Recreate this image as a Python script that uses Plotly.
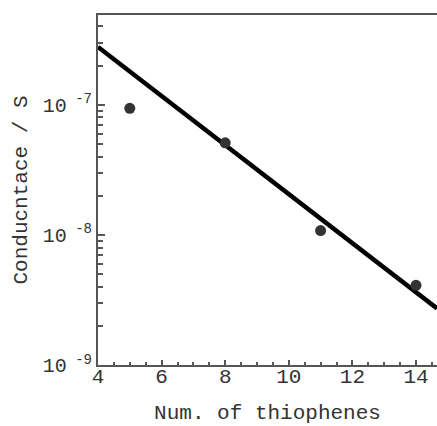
import plotly.graph_objects as go

# measured data
n_thiophenes = [5, 8, 11, 14]
conductance = [9.4e-8, 5.1e-8, 1.08e-8, 4.1e-9]

# fitted line (endpoints)
fit_x = [4, 14.66]
fit_y = [2.78e-7, 2.72e-9]

x_tickvals = [4, 6, 8, 10, 12, 14]
y_tickvals = [1e-9, 1e-8, 1e-7]
y_ticktext = ["10<sup> -9</sup>", "10<sup> -8</sup>", "10<sup> -7</sup>"]
y_minor = [m * 10.0 ** e for e in (-9, -8, -7) for m in range(2, 10)]

FONT = "Liberation Mono, Courier New, monospace"

fig = go.Figure()
fig.add_trace(go.Scatter(x=fit_x, y=fit_y, mode="lines",
                         line=dict(color="black", width=4.5), showlegend=False))
fig.add_trace(go.Scatter(x=n_thiophenes, y=conductance, mode="markers",
                         marker=dict(color="#333333", size=11), showlegend=False))

fig.update_layout(
    width=437, height=426,
    margin=dict(l=98, r=0, t=15, b=61),
    paper_bgcolor="white", plot_bgcolor="white",
    font=dict(family=FONT, size=17, color="#333333"),
    xaxis=dict(
        range=[4, 14.66], tickvals=x_tickvals,
        showline=True, linecolor="#555555", linewidth=2, mirror=True,
        ticks="inside", ticklen=5, tickcolor="#555555", tickwidth=1.5,
        minor=dict(dtick=0.5, ticks="inside", ticklen=3, tickcolor="#555555", tickwidth=1.5),
        showgrid=False, zeroline=False,
        ticklabelstandoff=-9,
        title=dict(text="Num. of thiophenes", font=dict(size=21), standoff=16),
        tickfont=dict(size=21),
    ),
    yaxis=dict(
        type="log", range=[-9, -6.31],
        tickvals=y_tickvals, ticktext=y_ticktext,
        showline=True, linecolor="#555555", linewidth=2,
        ticks="inside", ticklen=7, tickcolor="#555555", tickwidth=1.5,
        minor=dict(tickvals=y_minor, ticks="inside", ticklen=5, tickcolor="#555555", tickwidth=1.5),
        showgrid=False, zeroline=False,
        title=dict(text="Conducntace / S", font=dict(size=21), standoff=9),
        tickfont=dict(size=20),
    ),
)

fig.write_html("out.html")
